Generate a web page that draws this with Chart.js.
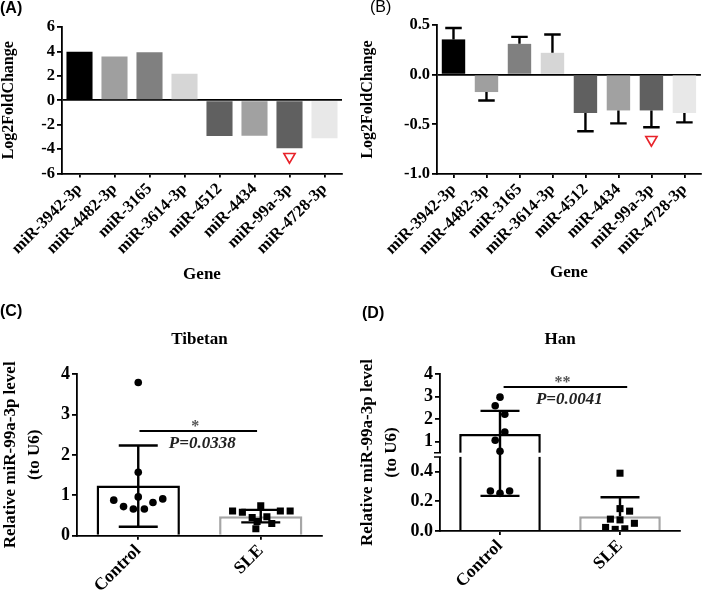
<!DOCTYPE html>
<html>
<head>
<meta charset="utf-8">
<script src="https://cdn.jsdelivr.net/npm/chart.js@4.4.0/dist/chart.umd.min.js"></script>
<style>
  body { margin: 0; background: #fff; }
  #wrap { position: relative; width: 709px; height: 593px; overflow: hidden; background: #fff; }
  canvas { position: absolute; }
  .lab { position: absolute; font-family: "Liberation Sans", Arial, sans-serif; font-size: 16px; line-height: 16px; font-weight: bold; }
</style>
</head>
<body>
<div id="wrap">
  <canvas id="chA" width="355" height="300" style="left:0;top:0"></canvas>
  <canvas id="chB" width="354" height="300" style="left:355px;top:0"></canvas>
  <canvas id="chC" width="355" height="293" style="left:0;top:300px"></canvas>
  <canvas id="chD" width="354" height="293" style="left:355px;top:300px"></canvas>
  <div class="lab" style="left:0;top:0">(A)</div>
  <div class="lab" style="left:370px;top:-1px;font-weight:normal">(B)</div>
  <div class="lab" style="left:0;top:303px">(C)</div>
  <div class="lab" style="left:362px;top:305px">(D)</div>
</div>
<script>
// panels A and B: fold change per miRNA
const genes = ['miR-3942-3p', 'miR-4482-3p', 'miR-3165', 'miR-3614-3p', 'miR-4512', 'miR-4434', 'miR-99a-3p', 'miR-4728-3p'];
const foldA = [3.98, 3.58, 3.93, 2.17, -2.93, -2.9, -3.93, -3.11];
const foldB = [0.355, -0.175, 0.31, 0.22, -0.387, -0.36, -0.36, -0.387];
const errEndB = [0.47, -0.26, 0.38, 0.405, -0.57, -0.49, -0.53, -0.48];
const ticksA = [-6, -4, -2, 0, 2, 4, 6];
const ticksB = [-1.0, -0.5, 0.0, 0.5];
const markA = -4.63;   // red triangle under miR-99a-3p
const markB = -0.655;

// panels C and D: relative miR-99a-3p level
const groups = ['Control', 'SLE'];
const tibMean = [1.24, 0.48];
const tibSdLow = [0.22, 0.33];
const tibSdHigh = [2.23, 0.64];
const tibCtrl = [3.79, 1.57, 0.96, 0.88, 0.72, 0.66, 0.66, 0.82, 0.91];
const tibCtrlJit = [0, 0, 0, -0.2, -0.12, -0.04, 0.05, 0.12, 0.2];
const tibSle = [0.61, 0.58, 0.74, 0.61, 0.61, 0.45, 0.47, 0.35, 0.3, 0.17];
const tibSleJit = [-0.23, -0.15, 0.0, 0.16, 0.24, -0.07, 0.05, -0.03, 0.09, -0.04];
const ticksC = [0, 1, 2, 3, 4];

const hanMean = [1.33, 0.1];
const hanSdLow = [0.237, null];
const hanSdHigh = [2.36, 0.228];
const hanCtrl = [2.97, 2.59, 2.21, 1.42, 1.05, 0.56, 0.27, 0.254, 0.27];
const hanCtrlJit = [0, -0.04, 0.04, 0.04, -0.04, 0, -0.08, 0, 0.08];
const hanSle = [0.39, 0.151, 0.134, 0.08, 0.075, 0.052, 0.024, 0.011, 0.015];
const hanSleJit = [0, 0, 0.08, -0.08, 0, 0.12, -0.12, -0.04, 0.04];
const ticksD = [0, 0.2, 0.4, 1, 2, 3, 4];
const brk = 0.5;  // axis break in panel D

const sigC = {x: [0.01, 0.97], y: 2.59, stars: '*', p: 'P=0.0338'};
const sigD = {x: [0.03, 1.06], y: 3.42, stars: '**', p: 'P=0.0041'};

const barGrays = ['#000000', '#9f9f9f', '#808080', '#d6d6d6', '#606060', '#a1a1a1', '#606060', '#e8e8e8'];

Chart.defaults.font.family = '"Liberation Serif", "Times New Roman", serif';
Chart.defaults.font.weight = 'bold';
Chart.defaults.color = '#000';
Chart.defaults.animation = false;
Chart.defaults.events = [];
Chart.defaults.plugins.legend.display = false;
Chart.defaults.plugins.tooltip.enabled = false;

const serif = size => ({family: '"Liberation Serif", "Times New Roman", serif', weight: 'bold', size: size});

class BrokenScale extends Chart.LinearScale {
  static id = 'broken';
  static defaults = Chart.LinearScale.defaults;
  segs() {
    const h = this.bottom - this.top;
    const low = h * 0.472, gap = h * 0.027;
    return {low, gap, up: h - low - gap};
  }
  getPixelForValue(v) {
    const {low, gap, up} = this.segs();
    if (v <= brk) return this.bottom - (v - this.min) / (brk - this.min) * low;
    return this.bottom - low - gap - (v - brk) / (this.max - brk) * up;
  }
  getValueForPixel(p) {
    const {low, gap, up} = this.segs();
    const d = this.bottom - p;
    if (d <= low) return this.min + d / low * (brk - this.min);
    return brk + (d - low - gap) / up * (this.max - brk);
  }
}
Chart.register(BrokenScale);

const axisLine = {display: true, color: '#000', width: 1.8};

function errorBars(mean, lo, hi, cap) {
  return {
    id: 'errorBars',
    afterDatasetsDraw(chart) {
      const {ctx, scales: {x, y}} = chart;
      ctx.save();
      ctx.strokeStyle = '#000';
      ctx.lineWidth = 2.4;
      hi.forEach((h, i) => {
        const px = x.getPixelForValue(i);
        const y1 = y.getPixelForValue(lo[i] == null ? mean[i] : lo[i]);
        const y2 = y.getPixelForValue(h);
        ctx.beginPath();
        ctx.moveTo(px, y1); ctx.lineTo(px, y2);
        ctx.moveTo(px - cap / 2, y2); ctx.lineTo(px + cap / 2, y2);
        if (lo[i] != null) { ctx.moveTo(px - cap / 2, y1); ctx.lineTo(px + cap / 2, y1); }
        ctx.stroke();
      });
      ctx.restore();
    }
  };
}

function sigBar(s) {
  return {
    id: 'sigBar',
    afterDatasetsDraw(chart) {
      const {ctx, scales: {xp, y}} = chart;
      const x1 = xp.getPixelForValue(s.x[0]), x2 = xp.getPixelForValue(s.x[1]);
      const py = y.getPixelForValue(s.y), mid = (x1 + x2) / 2;
      ctx.save();
      ctx.strokeStyle = '#000';
      ctx.lineWidth = 2;
      ctx.beginPath(); ctx.moveTo(x1, py); ctx.lineTo(x2, py); ctx.stroke();
      ctx.textAlign = 'center';
      ctx.textBaseline = 'alphabetic';
      ctx.fillStyle = '#555';
      ctx.font = 'bold 16px "Liberation Serif"';
      ctx.fillText(s.stars, mid - 3, py);
      ctx.fillStyle = '#222';
      ctx.font = 'italic bold 17px "Liberation Serif"';
      ctx.fillText(s.p, mid + 4, py + 17);
      ctx.restore();
    }
  };
}

// white gap over the bars and axis at the break, with the break marks
const axisBreak = {
  id: 'axisBreak',
  afterDatasetDraw(chart, args) {
    if (args.meta.type !== 'bar') return;
    const {ctx, chartArea, scales: {y}} = chart;
    const {low, gap} = y.segs();
    const g1 = y.bottom - low, g0 = g1 - gap;
    ctx.save();
    ctx.fillStyle = '#fff';
    ctx.fillRect(chartArea.left - 8, g0, chartArea.right - chartArea.left + 8, gap);
    ctx.strokeStyle = '#000';
    ctx.lineWidth = 1.5;
    ctx.beginPath();
    ctx.moveTo(chartArea.left - 6, g0); ctx.lineTo(chartArea.left + 1, g0);
    ctx.moveTo(chartArea.left - 6, g1); ctx.lineTo(chartArea.left + 1, g1);
    ctx.stroke();
    ctx.restore();
  }
};

function geneChart(id, vals, ticks, mark, box, extraPlugins, fmt) {
  return new Chart(document.getElementById(id), {
    type: 'bar',
    data: {
      labels: genes,
      datasets: [
        {data: vals, backgroundColor: barGrays, grouped: false, barPercentage: box.barPct, categoryPercentage: 1, order: 2},
        {type: 'scatter', data: [{x: genes[6], y: mark}], pointStyle: 'triangle', rotation: 180,
         radius: 6.5, borderColor: '#e8232a', backgroundColor: '#fff', borderWidth: 1.6, order: 1}
      ]
    },
    options: {
      responsive: false,
      layout: {padding: {left: 0, right: box.right, top: box.top, bottom: 0}},
      scales: {
        x: {
          afterFit: s => { s.height = box.xh; },
          border: axisLine,
          grid: {offset: false, drawOnChartArea: false, color: '#000', tickLength: 4, lineWidth: 1.8},
          ticks: {minRotation: 45, maxRotation: 45, autoSkip: false, padding: 2, font: serif(16.5)},
          title: {display: true, text: 'Gene', font: serif(17), padding: {top: 0, bottom: box.geneBottom}}
        },
        y: {
          min: ticks[0], max: ticks[ticks.length - 1],
          afterFit: s => { s.width = box.yw; },
          afterBuildTicks: s => { s.ticks = ticks.map(v => ({value: v})); },
          border: axisLine,
          grid: {color: c => (c.tick && c.tick.value === 0 ? '#000' : 'rgba(0,0,0,0)'),
                 tickColor: '#000', tickLength: 5, lineWidth: 1.8},
          ticks: {padding: 2, font: serif(16.5), callback: fmt},
          title: {display: true, text: 'Log2FoldChange', font: Object.assign(serif(16), {lineHeight: 1.05}), padding: {top: box.titleLeft}}
        }
      }
    },
    plugins: extraPlugins
  });
}

geneChart('chA', foldA, ticksA, markA,
  {barPct: 0.745, right: 13, top: 27, xh: 126.5, yw: 62, geneBottom: 15, titleLeft: 0}, [], v => v);
geneChart('chB', foldB, ticksB, markB,
  {barPct: 0.71, right: 3, top: 25, xh: 126, yw: 82, geneBottom: 17, titleLeft: 4.5},
  [errorBars(foldB, foldB.map(() => null), errEndB, 16.5)], v => v.toFixed(1));

function levelChart(id, title, mean, sdLow, sdHigh, ctrl, ctrlJit, sle, sleJit, yScale, sig, box, extraPlugins) {
  return new Chart(document.getElementById(id), {
    type: 'bar',
    data: {
      labels: groups,
      datasets: [
        {data: mean, backgroundColor: '#fff', borderColor: ['#000', '#a6a6a6'], borderWidth: 2.5, grouped: false,
         barPercentage: 0.68, categoryPercentage: 1, order: 3},
        {type: 'scatter', xAxisID: 'xp', data: ctrl.map((v, i) => ({x: ctrlJit[i], y: v})),
         pointStyle: 'circle', radius: 3.8, backgroundColor: '#000', borderWidth: 0, order: 2},
        {type: 'scatter', xAxisID: 'xp', data: sle.map((v, i) => ({x: 1 + sleJit[i], y: v})),
         pointStyle: 'rect', radius: 5, backgroundColor: '#000', borderWidth: 0, order: 1}
      ]
    },
    options: {
      responsive: false,
      layout: {padding: {left: 0, right: box.right, top: 0, bottom: 0}},
      plugins: {
        title: {display: true, text: title, fullSize: false, font: Object.assign(serif(17), {lineHeight: 1.2}),
                padding: {top: 29, bottom: 24.6}}
      },
      scales: {
        x: {
          afterFit: s => { s.height = box.xh; },
          border: axisLine,
          grid: {offset: false, drawOnChartArea: false, color: '#000', tickLength: 4, lineWidth: 1.8},
          ticks: {minRotation: 45, maxRotation: 45, autoSkip: false, padding: 1, font: serif(17.5)}
        },
        // hidden linear twin of the category axis, for the jittered points
        xp: {type: 'linear', display: false, offset: false, grid: {offset: false}, min: -0.5, max: 1.5},
        y: Object.assign({
          afterFit: s => { s.width = box.yw; },
          border: axisLine,
          grid: {drawOnChartArea: false, color: '#000', tickLength: 5, lineWidth: 1.8},
          title: {display: true, text: ['Relative miR-99a-3p level', '(to U6)'],
                  font: Object.assign(serif(17), {lineHeight: 1.45}), padding: {top: box.titleLeft}}
        }, yScale)
      }
    },
    plugins: [errorBars(mean, sdLow, sdHigh, 39), sigBar(sig)].concat(extraPlugins)
  });
}

levelChart('chC', 'Tibetan', tibMean, tibSdLow, tibSdHigh, tibCtrl, tibCtrlJit, tibSle, tibSleJit,
  {min: 0, max: 4,
   afterBuildTicks: s => { s.ticks = ticksC.map(v => ({value: v})); },
   ticks: {padding: 2, font: serif(18)}},
  sigC, {right: 33, xh: 57.3, yw: 77, titleLeft: -2}, []);

levelChart('chD', 'Han', hanMean, hanSdLow, hanSdHigh, hanCtrl, hanCtrlJit, hanSle, hanSleJit,
  {type: 'broken', min: 0, max: 4,
   afterBuildTicks: s => { s.ticks = ticksD.map(v => ({value: v})); },
   ticks: {padding: 2, font: serif(18), callback: v => (v < brk ? v.toFixed(1) : String(v))}},
  sigD, {right: 29, xh: 62, yw: 85, titleLeft: 0}, [axisBreak]);
</script>
</body>
</html>
